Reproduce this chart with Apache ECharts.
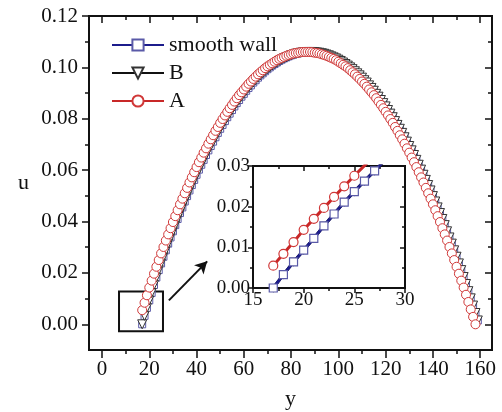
<!DOCTYPE html>
<html>
<head>
<meta charset="utf-8">
<script src="https://cdn.jsdelivr.net/npm/echarts@6/dist/echarts.min.js"></script>
<style>
html, body { margin: 0; padding: 0; background: #fff; }
#chart { width: 502px; height: 412px; }
</style>
</head>
<body>
<div id="chart"></div>
<script>
// sampling positions start at y = 17, one point per unit of y
var startSmooth = 17, startB = 17, startA = 17;

// smooth wall, y = 17..159
var uSmooth = [
  0.0000,0.0033,0.0064,0.0093,0.0122,0.0153,0.0182,0.0211,0.0237,0.0263,
  0.0288,0.0314,0.0338,0.0362,0.0386,0.0410,0.0433,0.0455,0.0478,0.0499,
  0.0521,0.0542,0.0562,0.0582,0.0602,0.0621,0.0640,0.0659,0.0677,0.0694,
  0.0711,0.0728,0.0745,0.0761,0.0776,0.0791,0.0806,0.0820,0.0834,0.0848,
  0.0861,0.0873,0.0886,0.0897,0.0909,0.0920,0.0930,0.0941,0.0950,0.0960,
  0.0969,0.0977,0.0985,0.0993,0.1000,0.1007,0.1013,0.1019,0.1025,0.1030,
  0.1035,0.1039,0.1043,0.1047,0.1050,0.1053,0.1055,0.1057,0.1058,0.1059,
  0.1060,0.1060,0.1060,0.1059,0.1058,0.1057,0.1055,0.1053,0.1050,0.1047,
  0.1043,0.1039,0.1035,0.1030,0.1025,0.1019,0.1013,0.1007,0.1000,0.0993,
  0.0985,0.0977,0.0969,0.0960,0.0950,0.0941,0.0930,0.0920,0.0909,0.0897,
  0.0886,0.0873,0.0861,0.0848,0.0834,0.0820,0.0806,0.0791,0.0776,0.0761,
  0.0745,0.0728,0.0711,0.0694,0.0677,0.0659,0.0640,0.0621,0.0602,0.0582,
  0.0562,0.0542,0.0521,0.0499,0.0478,0.0455,0.0433,0.0410,0.0386,0.0362,
  0.0338,0.0314,0.0288,0.0263,0.0237,0.0211,0.0184,0.0157,0.0129,0.0101,
  0.0073,0.0044,0.0015
];

// B, y = 17..159 (lies on top of smooth wall)
var uB = [
  0.0000,0.0033,0.0064,0.0093,0.0122,0.0153,0.0182,0.0211,0.0237,0.0263,
  0.0288,0.0314,0.0338,0.0362,0.0386,0.0410,0.0433,0.0455,0.0478,0.0499,
  0.0521,0.0542,0.0562,0.0582,0.0602,0.0621,0.0640,0.0659,0.0677,0.0694,
  0.0711,0.0728,0.0745,0.0761,0.0776,0.0791,0.0806,0.0820,0.0834,0.0848,
  0.0861,0.0873,0.0886,0.0897,0.0909,0.0920,0.0930,0.0941,0.0950,0.0960,
  0.0969,0.0977,0.0985,0.0993,0.1000,0.1007,0.1013,0.1019,0.1025,0.1030,
  0.1035,0.1039,0.1043,0.1047,0.1050,0.1053,0.1055,0.1057,0.1058,0.1059,
  0.1060,0.1060,0.1060,0.1059,0.1058,0.1057,0.1055,0.1053,0.1050,0.1047,
  0.1043,0.1039,0.1035,0.1030,0.1025,0.1019,0.1013,0.1007,0.1000,0.0993,
  0.0985,0.0977,0.0969,0.0960,0.0950,0.0941,0.0930,0.0920,0.0909,0.0897,
  0.0886,0.0873,0.0861,0.0848,0.0834,0.0820,0.0806,0.0791,0.0776,0.0761,
  0.0745,0.0728,0.0711,0.0694,0.0677,0.0659,0.0640,0.0621,0.0602,0.0582,
  0.0562,0.0542,0.0521,0.0499,0.0478,0.0455,0.0433,0.0410,0.0386,0.0362,
  0.0338,0.0314,0.0288,0.0263,0.0237,0.0211,0.0184,0.0157,0.0129,0.0101,
  0.0073,0.0044,0.0015
];

// A, y = 17..158
var uA = [
  0.0055,0.0084,0.0113,0.0143,0.0170,0.0197,0.0224,0.0250,0.0276,0.0301,
  0.0326,0.0350,0.0374,0.0398,0.0421,0.0444,0.0467,0.0489,0.0510,0.0531,
  0.0552,0.0572,0.0592,0.0612,0.0631,0.0649,0.0668,0.0685,0.0703,0.0720,
  0.0736,0.0753,0.0768,0.0784,0.0799,0.0813,0.0827,0.0841,0.0854,0.0867,
  0.0880,0.0892,0.0903,0.0914,0.0925,0.0936,0.0945,0.0955,0.0964,0.0973,
  0.0981,0.0989,0.0997,0.1004,0.1010,0.1016,0.1022,0.1028,0.1033,0.1037,
  0.1041,0.1045,0.1048,0.1051,0.1054,0.1056,0.1057,0.1059,0.1060,0.1060,
  0.1060,0.1060,0.1059,0.1057,0.1056,0.1054,0.1051,0.1048,0.1045,0.1041,
  0.1037,0.1033,0.1028,0.1022,0.1016,0.1010,0.1004,0.0997,0.0989,0.0981,
  0.0973,0.0964,0.0955,0.0945,0.0936,0.0925,0.0914,0.0903,0.0892,0.0880,
  0.0867,0.0854,0.0841,0.0827,0.0813,0.0799,0.0784,0.0768,0.0753,0.0736,
  0.0720,0.0703,0.0685,0.0668,0.0649,0.0631,0.0612,0.0592,0.0572,0.0552,
  0.0531,0.0510,0.0489,0.0467,0.0444,0.0421,0.0398,0.0374,0.0350,0.0326,
  0.0301,0.0276,0.0250,0.0224,0.0197,0.0170,0.0143,0.0115,0.0087,0.0058,
  0.0029,0.0000
];

// tick labels
var xTicks = [0, 20, 40, 60, 80, 100, 120, 140, 160];
var xMinor = [10, 30, 50, 70, 90, 110, 130, 150];
var yTicks = [0, 0.02, 0.04, 0.06, 0.08, 0.10, 0.12];
var yMinor = [0.01, 0.03, 0.05, 0.07, 0.09, 0.11];
var insetXTicks = [15, 20, 25, 30];
var insetXMinor = [17.5, 22.5, 27.5];
var insetYTicks = [0, 0.01, 0.02, 0.03];
var insetYMinor = [0.005, 0.015, 0.025];

// zoom box + arrow, in data units
var zoomBox = [[7.2, 0.0128], [25.8, -0.0027]];
var arrowLine = [[28.3, 0.0093], [44.5, 0.0245]];

var FONT = 'Liberation Serif';
var INK = '#111';

function pairs(start, vals) {
  return vals.map(function (v, i) { return [start + i, v]; });
}

function frameAxis(grid, pos, range, ticks, len, inside, label) {
  var ax = {
    type: 'value', gridIndex: grid, position: pos, min: range[0], max: range[1],
    axisLine: { show: true, onZero: false, lineStyle: { color: INK, width: 2 } },
    axisTick: { show: true, inside: inside, length: len, customValues: ticks,
      lineStyle: { color: INK, width: 1.5 } },
    axisLabel: { show: false },
    splitLine: { show: false }
  };
  if (label) {
    ax.axisLabel = { show: true, customValues: ticks, formatter: label.fmt, color: INK,
      fontFamily: FONT, fontSize: label.size, margin: label.margin };
  }
  return ax;
}

var xRange = [-5.5, 165], yRange = [-0.01, 0.12];
var ixRange = [15, 30], iyRange = [0, 0.03];
var fmtInt = function (v) { return String(v); };
var fmt2 = function (v) { return v.toFixed(2); };

var xAxes = [
  Object.assign(frameAxis(0, 'bottom', xRange, xTicks, 8, false, { fmt: fmtInt, size: 21, margin: 9 }), {
    name: 'y', nameLocation: 'middle', nameGap: 38,
    nameTextStyle: { fontFamily: FONT, fontSize: 22, color: INK }
  }),
  frameAxis(0, 'bottom', xRange, xMinor, 4, false),
  frameAxis(0, 'top', xRange, xTicks, 7, true),
  frameAxis(0, 'top', xRange, xMinor, 4, true),
  frameAxis(1, 'bottom', ixRange, insetXTicks, 5, false, { fmt: fmtInt, size: 19, margin: 3 }),
  frameAxis(1, 'bottom', ixRange, insetXMinor, 3, false),
  frameAxis(1, 'top', ixRange, insetXTicks, 5, true),
  frameAxis(1, 'top', ixRange, insetXMinor, 3, true)
];
var yAxes = [
  Object.assign(frameAxis(0, 'left', yRange, yTicks, 7, false, { fmt: fmt2, size: 21, margin: 11 }), {
    name: 'u', nameLocation: 'middle', nameGap: 60, nameRotate: 0,
    nameTextStyle: { fontFamily: FONT, fontSize: 22, color: INK }
  }),
  frameAxis(0, 'left', yRange, yMinor, 4, false),
  frameAxis(0, 'right', yRange, yTicks, 7, true),
  frameAxis(0, 'right', yRange, yMinor, 4, true),
  frameAxis(1, 'left', iyRange, insetYTicks, 5, false, { fmt: fmt2, size: 19, margin: 3 }),
  frameAxis(1, 'left', iyRange, insetYMinor, 3, false),
  frameAxis(1, 'right', iyRange, insetYTicks, 5, true),
  frameAxis(1, 'right', iyRange, insetYMinor, 3, true)
];

var styles = {
  'smooth wall': { line: '#1c1c8c', border: '#5a5aa8', symbol: 'rect', rotate: 0 },
  'B': { line: '#111111', border: '#333333', symbol: 'triangle', rotate: 180 },
  'A': { line: '#c82828', border: '#d03838', symbol: 'circle', rotate: 0 }
};

function curve(name, data, inset) {
  var s = styles[name];
  var size = inset ? { 'smooth wall': 8, 'B': 7, 'A': 9 } : { 'smooth wall': 7, 'B': 9, 'A': 9 };
  return {
    type: 'line', name: name, data: data,
    xAxisIndex: inset ? 4 : 0, yAxisIndex: inset ? 4 : 0,
    clip: true, showAllSymbol: true, silent: true,
    symbol: s.symbol, symbolRotate: s.rotate,
    symbolSize: size[name],
    lineStyle: { color: s.line, width: inset ? 3 : 1.5 },
    itemStyle: { color: '#fff', borderColor: s.border, borderWidth: inset ? 1.2 : 1 },
    z: 3
  };
}

var main = [
  curve('smooth wall', pairs(startSmooth, uSmooth)),
  curve('B', pairs(startB, uB)),
  curve('A', pairs(startA, uA))
];
main[0].markArea = {
  silent: true,
  itemStyle: { color: 'rgba(0,0,0,0)', borderColor: INK, borderWidth: 2 },
  data: [[{ coord: zoomBox[0] }, { coord: zoomBox[1] }]]
};
main[0].markLine = {
  silent: true, symbol: ['none', 'arrow'], symbolSize: [10, 12],
  label: { show: false },
  lineStyle: { color: INK, width: 2, type: 'solid' },
  data: [[{ coord: arrowLine[0] }, { coord: arrowLine[1] }]]
};

var inset = [
  curve('B', pairs(startB, uB), true),
  curve('smooth wall', pairs(startSmooth, uSmooth), true),
  curve('A', pairs(startA, uA), true)
];

var chart = echarts.init(document.getElementById('chart'));
chart.setOption({
  animation: false,
  backgroundColor: '#fff',
  grid: [
    { left: 89, right: 10, top: 16, bottom: 62, outerBoundsMode: 'none' },
    { left: 253, right: 97, top: 166, bottom: 124, outerBoundsMode: 'none',
      backgroundColor: '#fff', show: true, borderWidth: 0 }
  ],
  legend: {
    data: ['smooth wall', 'B', 'A'],
    orient: 'vertical', left: 106, top: 29,
    itemWidth: 52, itemHeight: 14, itemGap: 6, selectedMode: false,
    textStyle: { fontFamily: FONT, fontSize: 22, color: INK, lineHeight: 22 }
  },
  xAxis: xAxes,
  yAxis: yAxes,
  series: main.concat(inset)
});
</script>
</body>
</html>
